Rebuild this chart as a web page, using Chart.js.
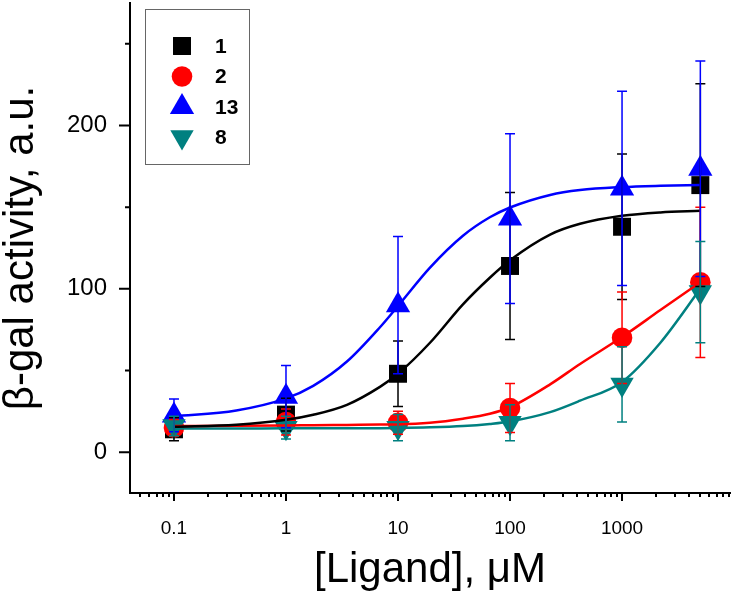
<!DOCTYPE html>
<html>
<head>
<meta charset="utf-8">
<script src="https://cdn.jsdelivr.net/npm/chart.js@4.4.1/dist/chart.umd.min.js"></script>
<style>
  html, body { margin: 0; padding: 0; background: #fff; }
  #chartCanvas { display: block; }
</style>
</head>
<body>
<canvas id="chartCanvas" width="732" height="597"></canvas>
<script>
// --- values ---
const doses = [0.1, 1, 10, 100, 1000, 5000];

const act1 = [14, 23, 48, 114, 138, 163.5];
const err1 = [7, 10, 20, 45, 44.5, 62];
const act2 = [15, 18.5, 18, 27, 70, 104];
const err2 = [5, 8, 7, 15, 28, 46];
const act13 = [22.5, 34, 90, 143, 161.5, 173.5];
const err13 = [10, 19, 42, 52, 59.5, 66];
const act8 = [16, 15, 15, 18, 41.5, 98];
const err8 = [6, 7, 8, 11, 23, 31];

// fitted curves
const fitX = [0.1, 0.36, 1, 1.75, 3.5, 6.9, 10, 19.3, 38, 66, 100, 228, 422, 1000, 2200, 5000];
const fit1 = [15.6, 16.8, 19.8, 22.9, 29, 40, 48, 67, 90.5, 106.8, 117.5, 133.2, 139.8, 144.7, 146.8, 147.8];
const fit2 = [16, 16.1, 16.3, 16.5, 16.7, 16.9, 17, 18, 20.5, 23.5, 27.5, 41.5, 54, 70.5, 87, 104];
const fit13 = [22, 25.5, 32.9, 40.6, 55.5, 76.5, 89.5, 113, 132.5, 143.8, 149.8, 157.5, 160.5, 162.3, 163.1, 163.6];
const fit8 = [14.5, 14.5, 14.6, 14.6, 14.7, 14.7, 14.8, 15.2, 16, 17.3, 18.8, 24.5, 31.5, 43, 67, 100];

const xTicks = [0.1, 1, 10, 100, 1000];
const xLabels = ["0.1", "1", "10", "100", "1000"];
const yTicks = [0, 50, 100, 150, 200, 250];
const yLabels = ["0", "", "100", "", "200", ""];

const seriesNames = ["1", "2", "13", "8"];

const FONT = "Arial, 'Liberation Sans', sans-serif";
Chart.defaults.font.family = FONT;
Chart.defaults.color = "#000";

// one entry per compound, built from the arrays above
const series = [
  { name: seriesNames[0], values: act1, errors: err1, fit: fit1, color: "#000000", style: "rect", radius: 12.7, rotation: 0 },
  { name: seriesNames[1], values: act2, errors: err2, fit: fit2, color: "#ff0000", style: "circle", radius: 10.3, rotation: 0 },
  { name: seriesNames[2], values: act13, errors: err13, fit: fit13, color: "#0000ff", style: "triangle", radius: 14, rotation: 0 },
  { name: seriesNames[3], values: act8, errors: err8, fit: fit8, color: "#008080", style: "triangle", radius: 13.5, rotation: 180 }
];

// markers: black at the bottom, teal on top
const markerSets = series.map((s, i) => ({
  label: s.name,
  data: doses.map((d, j) => ({ x: d, y: s.values[j] })),
  showLine: false,
  pointStyle: s.style,
  pointRadius: s.radius,
  pointRotation: s.rotation,
  pointBackgroundColor: s.color,
  pointBorderColor: s.color,
  pointBorderWidth: 0,
  order: 10 - i
}));

const curveSets = series.map(s => ({
  label: s.name + " fit",
  data: fitX.map((d, j) => ({ x: d, y: s.fit[j] })),
  showLine: true,
  borderColor: s.color,
  borderWidth: 2.5,
  pointRadius: 0,
  cubicInterpolationMode: "monotone",
  order: 0
}));

// vertical error bars with caps
const errorBars = {
  id: "errorBars",
  afterDatasetsDraw(chart) {
    const { ctx, scales: { x, y } } = chart;
    series.forEach(s => {
      ctx.save();
      ctx.strokeStyle = s.color;
      ctx.lineWidth = 1.5;
      ctx.beginPath();
      doses.forEach((d, i) => {
        const px = x.getPixelForValue(d);
        const top = y.getPixelForValue(s.values[i] + s.errors[i]);
        const bot = y.getPixelForValue(s.values[i] - s.errors[i]);
        ctx.moveTo(px, top); ctx.lineTo(px, bot);
        ctx.moveTo(px - 5, top); ctx.lineTo(px + 5, top);
        ctx.moveTo(px - 5, bot); ctx.lineTo(px + 5, bot);
      });
      ctx.stroke();
      ctx.restore();
    });
  }
};

// outward tick marks, long for labelled ticks, short for minor ones
const axisTicks = {
  id: "axisTicks",
  afterDraw(chart) {
    const { ctx, chartArea, scales: { x, y } } = chart;
    ctx.save();
    ctx.strokeStyle = "#000";
    ctx.lineWidth = 2;
    ctx.beginPath();
    y.ticks.forEach((t, i) => {
      const py = y.getPixelForValue(t.value);
      const len = yLabels[i] ? 11 : 5;
      ctx.moveTo(chartArea.left, py);
      ctx.lineTo(chartArea.left - len, py);
    });
    for (let e = -2; e <= 4; e++) {
      for (let m = 1; m <= 9; m++) {
        const v = m * Math.pow(10, e);
        if (v < x.min || v > x.max) continue;
        const px = Math.round(x.getPixelForValue(v));
        ctx.moveTo(px, chartArea.bottom);
        ctx.lineTo(px, chartArea.bottom + (m === 1 ? 8 : 4));
      }
    }
    ctx.stroke();
    ctx.restore();
  }
};

// legend box in the upper left of the plot
const boxLegend = {
  id: "boxLegend",
  afterDraw(chart) {
    const ctx = chart.ctx;
    ctx.save();
    ctx.fillStyle = "#fff";
    ctx.strokeStyle = "#666";
    ctx.lineWidth = 1;
    ctx.fillRect(145.5, 9.5, 104, 155);
    ctx.strokeRect(145.5, 9.5, 104, 155);
    const rows = [46, 76.5, 107, 137];
    series.forEach((s, i) => {
      ctx.fillStyle = s.color;
      ctx.strokeStyle = s.color;
      Chart.helpers.drawPoint(ctx, { pointStyle: s.style, radius: s.radius, rotation: s.rotation, borderWidth: 0 }, 182, rows[i]);
      ctx.fillStyle = "#000";
      ctx.font = "bold 21px " + FONT;
      ctx.textBaseline = "middle";
      ctx.textAlign = "left";
      ctx.fillText(s.name, 215, rows[i] + 1);
    });
    ctx.restore();
  }
};

new Chart(document.getElementById("chartCanvas"), {
  type: "scatter",
  data: { datasets: [...curveSets, ...markerSets] },
  plugins: [errorBars, axisTicks, boxLegend],
  options: {
    responsive: false,
    animation: false,
    layout: { autoPadding: false, padding: { top: 3, right: 2, left: 0, bottom: 0 } },
    plugins: {
      legend: { display: false },
      tooltip: { enabled: false }
    },
    scales: {
      x: {
        type: "logarithmic",
        min: 0.0405,
        max: 9200,
        afterBuildTicks: scale => { scale.ticks = xTicks.map(v => ({ value: v })); },
        afterFit: scale => { scale.height = 104; scale.paddingLeft = 0; scale.paddingRight = 0; },
        grid: { display: true, drawOnChartArea: false, drawTicks: false },
        border: { display: true, color: "#000", width: 2 },
        ticks: {
          padding: 24,
          maxRotation: 0,
          autoSkip: false,
          font: { size: 19 },
          callback: (v, i) => xLabels[i]
        },
        title: {
          display: true,
          text: "[Ligand], \u03bcM",
          font: { size: 42, lineHeight: 1 },
          padding: { top: 0, bottom: 6 }
        }
      },
      y: {
        min: -25,
        max: 275,
        afterBuildTicks: scale => { scale.ticks = yTicks.map(v => ({ value: v })); },
        afterFit: scale => { scale.width = 130; scale.paddingTop = 0; scale.paddingBottom = 0; },
        grid: { display: true, drawOnChartArea: false, drawTicks: false },
        border: { display: true, color: "#000", width: 2 },
        ticks: {
          padding: 23,
          autoSkip: false,
          font: { size: 24 },
          callback: (v, i) => yLabels[i]
        },
        title: {
          display: true,
          text: "\u03b2-gal activity, a.u.",
          font: { size: 42, lineHeight: 1 },
          padding: { top: 0, bottom: 0 }
        }
      }
    }
  }
});
</script>
</body>
</html>
